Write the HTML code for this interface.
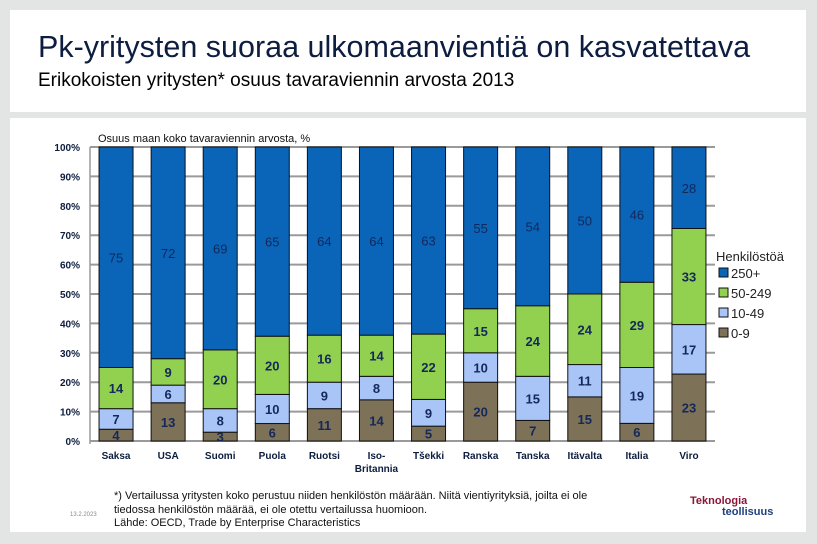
<!DOCTYPE html>
<html><head><meta charset="utf-8"><style>
body{margin:0;width:817px;height:544px;background:#e3e5e4;font-family:"Liberation Sans",Arial,sans-serif;position:relative;overflow:hidden}
.p{position:absolute;background:#fff}
</style></head><body>
<div class="p" style="left:10px;top:10px;width:796px;height:102px">
<div style="position:absolute;left:28px;top:20px;font-size:30.5px;color:#0d1d3f;white-space:nowrap">Pk-yritysten suoraa ulkomaanvientiä on kasvatettava</div>
<div style="position:absolute;left:28px;top:60px;font-size:19px;color:#000;white-space:nowrap">Erikokoisten yritysten* osuus tavaraviennin arvosta 2013</div>
</div>
<div class="p" style="left:10px;top:118px;width:796px;height:414px"></div>
<svg id="c" width="817" height="544" style="position:absolute;left:0;top:0"></svg>
<div style="position:absolute;left:114px;top:490px;font-size:11px;line-height:13.5px;color:#111;white-space:nowrap">*) Vertailussa yritysten koko perustuu niiden henkilöstön määrään. Niitä vientiyrityksiä, joilta ei ole<br>tiedossa henkilöstön määrää, ei ole otettu vertailussa huomioon.<br>Lähde: OECD, Trade by Enterprise Characteristics</div>
<div style="position:absolute;left:70px;top:512px;font-size:6px;color:#888">13.2.2023</div>
<div style="position:absolute;left:690px;top:496px;font-size:11px;font-weight:bold;line-height:11px"><span style="color:#8b1538">Teknologia</span><br><span style="color:#1f3f7f;margin-left:32px">teollisuus</span></div>
<script>
const categories=["Saksa","USA","Suomi","Puola","Ruotsi","Iso-\nBritannia","Tšekki","Ranska","Tanska","Itävalta","Italia","Viro"];
const s09=[4,13,3,6,11,14,5,20,7,15,6,23];
const s1049=[7,6,8,10,9,8,9,10,15,11,19,17];
const s50249=[14,9,20,20,16,14,22,15,24,24,29,33];
const s250=[75,72,69,65,64,64,63,55,54,50,46,28];
const yTicks=[0,10,20,30,40,50,60,70,80,90,100];
const seriesNames=["0-9","10-49","50-249","250+"];
const colors=["#7d7158","#a9c5f7","#92d050","#0a64b8"];
const NS="http://www.w3.org/2000/svg",svg=document.getElementById('c');
const X0=90,X1=715,Y0=441,Y1=147;
const step=(X1-X0)/categories.length,bw=34;
const y=v=>Y0-(v/100)*(Y0-Y1);
const x=i=>X0+i*step+(step-bw)/2;
function el(t,a,txt){const e=document.createElementNS(NS,t);for(const k in a)e.setAttribute(k,a[k]);if(txt!=null)e.textContent=txt;svg.appendChild(e);return e;}
yTicks.forEach(t=>{
 const g=el('line',{x1:X0,x2:X1,y1:y(t),y2:y(t),stroke:'#9a9a9a','stroke-width':2});
 
 
 const l=el('text',{x:80,y:y(t)+4,'text-anchor':'end','font-size':10,'font-weight':'bold',fill:'#0d1d3f'},t+'%');
 
 
});
el('line',{x1:X0,x2:X0,y1:Y1,y2:Y0+3,stroke:'#9a9a9a','stroke-width':1.5});
const series=[s09,s1049,s50249,s250];
categories.forEach((c,i)=>{
 let acc=0;
 const tot=series.reduce((a,s)=>a+s[i],0);
 series.forEach((s,k)=>{
  const v=s[i],vn=v/tot*100;
  const r=el('rect',{x:x(i),y:y(acc+vn),width:bw,height:y(acc)-y(acc+vn),fill:colors[k],stroke:'#111','stroke-width':1});
  
  
  const t=el('text',{x:x(i)+bw/2,y:y(acc+vn/2)+5,'text-anchor':'middle','font-size':13,'font-weight':k==3?'normal':'bold',fill:'#14285a'},v);
  
  
  acc+=vn;
 });
 c.split('\n').forEach((ln,j)=>{
  const t=el('text',{x:x(i)+bw/2,y:459+j*13,'text-anchor':'middle','font-size':10,'font-weight':'bold',fill:'#0d1d3f'},ln);
  
  
 });
});
const at=el('text',{x:98,y:142,'font-size':11,fill:'#111'},'Osuus maan koko tavaraviennin arvosta, %');


const lt=el('text',{x:716,y:261,'font-size':13,fill:'#222'},'Henkilöstöä');


[3,2,1,0].forEach((k,j)=>{
 const yy=268+j*20;
 const r=el('rect',{x:719,y:yy,width:9,height:9,fill:colors[k],stroke:'#111','stroke-width':1});
 
 
 const t=el('text',{x:731,y:yy+10,'font-size':13,fill:'#222'},seriesNames[k]);
 
 
});
</script>
</body></html>
